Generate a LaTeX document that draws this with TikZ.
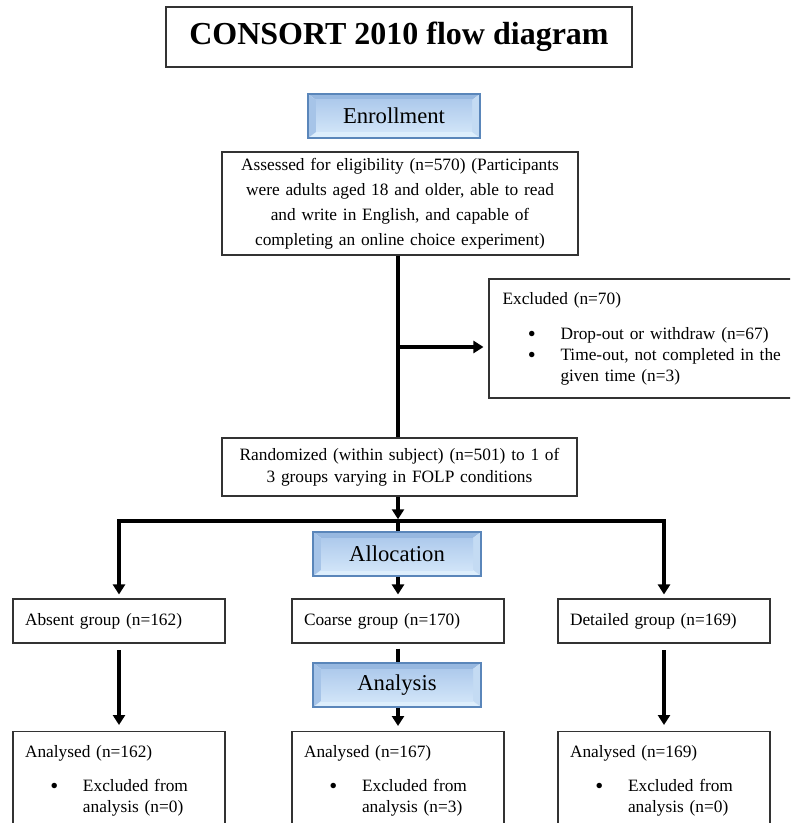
\documentclass[tikz,border=0pt]{standalone}
\usepackage{fontspec}
\setmainfont{Liberation Serif}
\usetikzlibrary{arrows.meta,calc}
\definecolor{phaseborder}{HTML}{5A86BA}
\definecolor{bevtop}{HTML}{97B8E0}
\definecolor{bevleft}{HTML}{A6C4E8}
\definecolor{bevright}{HTML}{C4DBF3}
\definecolor{bevbottom}{HTML}{DDEEFC}
\definecolor{facetop}{HTML}{AECAEC}
\definecolor{facebot}{HTML}{D0E4F8}
\definecolor{boxline}{HTML}{333333}
\newcommand{\bulitem}[1]{\hspace*{19pt}\makebox[24.5pt][l]{\raisebox{-2pt}{\fontsize{17}{17}\selectfont\textbullet}}\parbox[t]{180pt}{#1}}
\begin{document}
\begin{tikzpicture}[x=0.75pt,y=-0.75pt,
  box/.style={draw=boxline, line width=0.8pt, fill=white, inner sep=0pt},
  conn/.style={line width=2.6pt, line join=miter},
  arr/.style={conn, -{Triangle[length=7.5pt,width=9pt]}},
  body/.style={font=\fontsize{13}{15.75}\selectfont},
  groupbox/.style={box, body, minimum width=159pt, minimum height=33pt, text width=141pt, inner xsep=9pt, align=left},
  anabox/.style={box, body, anchor=north, minimum width=159pt, minimum height=73.5pt, text width=141pt, inner xsep=9pt, align=left},
  phase/.style={draw=phaseborder, line width=1.1pt, inner sep=0pt,
    minimum width=126pt, minimum height=33pt,
    font=\fontsize{17}{20}\selectfont,
    path picture={
      \fill[bevtop] (path picture bounding box.north west) -- (path picture bounding box.north east)
        -- ([xshift=-6pt,yshift=-4.5pt]path picture bounding box.north east)
        -- ([xshift=6pt,yshift=-4.5pt]path picture bounding box.north west) -- cycle;
      \fill[bevbottom] (path picture bounding box.south west) -- (path picture bounding box.south east)
        -- ([xshift=-6pt,yshift=4.5pt]path picture bounding box.south east)
        -- ([xshift=6pt,yshift=4.5pt]path picture bounding box.south west) -- cycle;
      \fill[bevleft] (path picture bounding box.north west) -- ([xshift=6pt,yshift=-4.5pt]path picture bounding box.north west)
        -- ([xshift=6pt,yshift=4.5pt]path picture bounding box.south west) -- (path picture bounding box.south west) -- cycle;
      \fill[bevright] (path picture bounding box.north east) -- ([xshift=-6pt,yshift=-4.5pt]path picture bounding box.north east)
        -- ([xshift=-6pt,yshift=4.5pt]path picture bounding box.south east) -- (path picture bounding box.south east) -- cycle;
      \shade[top color=facetop, bottom color=facebot] ([xshift=6pt,yshift=-4.5pt]path picture bounding box.north west)
        rectangle ([xshift=-6pt,yshift=4.5pt]path picture bounding box.south east);
    }}
  ]
\useasboundingbox (0,0) rectangle (790,823);
\clip (0,0) rectangle (790,823);
\fill[white] (0,0) rectangle (790,823);

% title
\node[box, minimum width=349.5pt, minimum height=45pt, font=\fontsize{24}{28}\selectfont\bfseries] (title) at (399,37) {CONSORT 2010 flow diagram};

% phases
\node[phase, minimum width=129pt] (enroll) at (394,116) {Enrollment};

% assessed
\node[box, minimum width=267pt, minimum height=77.25pt, text width=260pt, align=center, font=\fontsize{13}{18.75}\selectfont] (assess) at (400,203.5)
 {Assessed for eligibility (n=570) (Participants\\ were adults aged 18 and older, able to read\\ and write in English, and capable of\\ completing an online choice experiment)};

% excluded
\node[box, body, minimum width=233.25pt, minimum height=89.25pt, text width=213pt, inner xsep=9.75pt, align=left] (excl) at (644.5,338.5)
 {Excluded (n=70)\\[10.5pt]
  \bulitem{Drop-out or withdraw (n=67)}\\
  \bulitem{Time-out, not completed in the\\given time (n=3)}};

% randomized
\node[box, minimum width=266.25pt, minimum height=43.5pt, text width=260pt, align=center, font=\fontsize{13}{16.5}\selectfont] (random) at (399.5,467)
 {Randomized (within subject) (n=501) to 1 of\\ 3 groups varying in FOLP conditions};

\node[phase] (alloc) at (397,554) {Allocation};

% groups
\node[groupbox] (absent) at (119,621) {Absent group (n=162)};
\node[groupbox] (coarse) at (398,621) {Coarse group (n=170)};
\node[groupbox] (detailed) at (664,621) {Detailed group (n=169)};

\node[phase] (analysis) at (397,685) {Analysis};

% analysed
\node[anabox] (anaL) at (119,731) {Analysed (n=162)\\[9.75pt]\bulitem{Excluded from\\analysis (n=0)}};
\node[anabox] (anaM) at (398,731) {Analysed (n=167)\\[9.75pt]\bulitem{Excluded from\\analysis (n=3)}};
\node[anabox] (anaR) at (664,731) {Analysed (n=169)\\[9.75pt]\bulitem{Excluded from\\analysis (n=0)}};

% connectors
\coordinate (s) at (398,0);
\coordinate (br) at (398,347);
\coordinate (barM) at (398,521);
\draw[conn] (assess.south -| s) -- (random.north -| s);
\draw[arr, shorten >=3.75pt] (br) -- (excl.west |- br);
\draw[arr, shorten >=1.3pt] (random.south -| s) -- (barM);
\draw[arr, shorten >=3pt] (barM) -| (absent.north);
\draw[arr, shorten >=3pt] (barM) -| (detailed.north);
\draw[conn] (barM) -- (alloc.north -| s);
\draw[arr, shorten >=3pt] (alloc.south -| s) -- (coarse.north);
\draw[arr, shorten <=5pt, shorten >=4.5pt] (absent.south) -- (anaL.north);
\draw[arr, shorten <=5pt, shorten >=4.5pt] (detailed.south) -- (anaR.north);
\draw[conn, shorten <=3.75pt] (coarse.south) -- (analysis.north -| coarse.south);
\draw[arr, shorten >=3.75pt] (analysis.south -| coarse.south) -- (anaM.north);
\end{tikzpicture}
\end{document}
